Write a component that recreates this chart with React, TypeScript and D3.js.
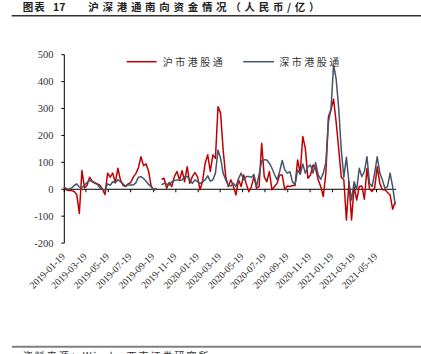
import React from "react";
import * as d3 from "d3";

const seriesNames = ["沪市港股通", "深市港股通"];
const seriesColors = ["#C00000", "#44546A"];

// weekly net southbound flows (RMB 100m), starting week of 2019-01-18
const shValues: (number | null)[] = [
  8, -3, -5, -5, -8, -20, -90, 70, 5, 15,
  45, 30, 25, 20, 15, 0, -20, 60, 45, 60,
  25, 78, 35, 15, 10, 20, 25, 45, 58, 80,
  121, 88, 94, 66, 10, -2, 4, null, 37, 41,
  4, 25, 10, 47, 66, 35, 69, 28, 84, 22,
  47, 62, 47, -2, 30, 97, 128, 66, 128, 115,
  307, 283, 146, 47, 10, 35, 10, -21, 35, 10,
  53, 20, -9, 10, 47, 4, 10, 171, 47, 28,
  66, -2, 10, 22, 53, 53, -2, 12, 10, 14,
  14, 109, 60, 196, 152, 41, 53, 90, 78, 35,
  10, -27, 60, 270, 295, 335, 250, 150, 45, 35,
  -114, 28, -114, 10, -40, 10, 12, -37, 78, 0,
  -8, 5, 84, 22, -2, -2, -12, -21, -74, -46,
];

const szValues: (number | null)[] = [
  10, 2, 0, 5, 14, 20, 8, 6, 15, 25,
  33, 28, 22, 18, 5, 0, -3, 20, 15, 28,
  24, 35, 28, 20, 12, 16, 16, 16, 24, 45,
  47, 40, 30, 18, 10, -5, 3, null, 16, 22,
  20, 16, 28, 32, 35, 32, 35, 47, 47, 35,
  22, 35, 28, 22, 28, 35, 50, 30, 35, 60,
  146, 115, 60, 35, 16, 12, 22, 10, 40, 60,
  35, 47, 47, 45, 55, 10, 55, 105, 110, 109,
  97, 78, 55, 35, 66, 107, 72, 60, 65, 28,
  16, 72, 55, 94, 60, 84, 90, 60, 99, 53,
  37, 60, 100, 250, 300, 462, 410, 300, 146, 45,
  119, 25, -40, 28, -2, 78, 47, 66, 121, 22,
  10, 60, 121, 60, 35, 4, 10, 60, 10, -58,
];

const xTickLabels = [
  "2019-01-19", "2019-03-19", "2019-05-19", "2019-07-19", "2019-09-19",
  "2019-11-19", "2020-01-19", "2020-03-19", "2020-05-19", "2020-07-19",
  "2020-09-19", "2020-11-19", "2021-01-19", "2021-03-19", "2021-05-19",
];
const yTicks = [-200, -100, 0, 100, 200, 300, 400, 500];

const startDate = "2019-01-18";

const W = 421;
const H = 354;

export default function App() {
  const parse = d3.timeParse("%Y-%m-%d");
  const start = parse(startDate) as Date;
  const dates = shValues.map((_, i) => d3.timeDay.offset(start, 7 * i));
  const tickDates = xTickLabels.map((s) => parse(s) as Date);

  const x = d3
    .scaleTime()
    .domain([tickDates[0], tickDates[tickDates.length - 1]])
    .range([64.3, 376.5]);
  const y = d3.scaleLinear().domain([-200, 500]).range([243.1, 54.7]);

  const line = d3
    .line<number | null>()
    .defined((d) => d !== null)
    .x((_, i) => x(dates[i]))
    .y((d) => y(d as number));

  const axisX0 = 64.3;
  const axisX1 = x(dates[dates.length - 1]) + 1;
  const y0 = y(0);

  const serif = "'Liberation Serif', 'Times New Roman', serif";
  const cjk = "'Noto Sans CJK SC', sans-serif";

  return (
    <svg
      width={W}
      height={H}
      style={{ position: "absolute", left: 0, top: 0, background: "#fff" }}
    >
      {/* title */}
      <text x={22.7} y={11} fontFamily={cjk} fontSize={10.5} fontWeight="bold" fill="#222" letterSpacing={1}>
        图表
      </text>
      <text x={53} y={11} fontFamily={cjk} fontSize={10.5} fontWeight="bold" fill="#222">
        17
      </text>
      <text x={88.3} y={11} fontFamily={cjk} fontSize={10.5} fontWeight="bold" fill="#222" letterSpacing={3.7}>
        沪深港通南向资金情况（人民币/亿）
      </text>
      <line x1={11.7} x2={W} y1={15.7} y2={15.7} stroke="#333" strokeWidth={1.4} />

      {/* y axis */}
      <line x1={axisX0} x2={axisX0} y1={y(500)} y2={y(-200)} stroke="#000" strokeWidth={1} />
      {yTicks.map((t) => (
        <g key={t}>
          <line x1={axisX0 - 3} x2={axisX0} y1={y(t)} y2={y(t)} stroke="#000" strokeWidth={1} />
          <text
            x={53.5}
            y={y(t)}
            dy="0.35em"
            textAnchor="end"
            fontFamily={serif}
            fontSize={10.5}
            fill="#333"
          >
            {t}
          </text>
        </g>
      ))}

      {/* x axis at zero */}
      <line x1={axisX0} x2={axisX1} y1={y0} y2={y0} stroke="#000" strokeWidth={1} />
      {tickDates.map((d, i) => (
        <line key={i} x1={x(d)} x2={x(d)} y1={y0} y2={y0 + 3} stroke="#000" strokeWidth={1} />
      ))}
      {tickDates.map((d, i) => (
        <text
          key={"l" + i}
          transform={`translate(${x(d) + 1.5},${257}) rotate(-45)`}
          textAnchor="end"
          fontFamily={serif}
          fontSize={9.8}
          fill="#333"
        >
          {xTickLabels[i]}
        </text>
      ))}

      {/* series */}
      <path d={line(shValues) || ""} fill="none" stroke={seriesColors[0]} strokeWidth={1.5} strokeLinejoin="round" />
      <path d={line(szValues) || ""} fill="none" stroke={seriesColors[1]} strokeWidth={1.5} strokeLinejoin="round" />

      {/* legend */}
      <line x1={126.7} x2={156.7} y1={61.7} y2={61.7} stroke={seriesColors[0]} strokeWidth={1.5} />
      <text x={162.7} y={65.8} fontFamily={cjk} fontSize={10} fill="#333" letterSpacing={2.5}>
        {seriesNames[0]}
      </text>
      <line x1={243.3} x2={274} y1={61.7} y2={61.7} stroke={seriesColors[1]} strokeWidth={1.5} />
      <text x={279.3} y={65.8} fontFamily={cjk} fontSize={10} fill="#333" letterSpacing={2.5}>
        {seriesNames[1]}
      </text>

      {/* footer (cut at the bottom edge, as in the reference) */}
      <line x1={12} x2={W} y1={346.7} y2={346.7} stroke="#808080" strokeWidth={2} />
      <text x={22.7} y={359.5} fontFamily={cjk} fontSize={10} fill="#333" letterSpacing={2}>
        资料来源：Wind，西南证券研究所
      </text>
    </svg>
  );
}
